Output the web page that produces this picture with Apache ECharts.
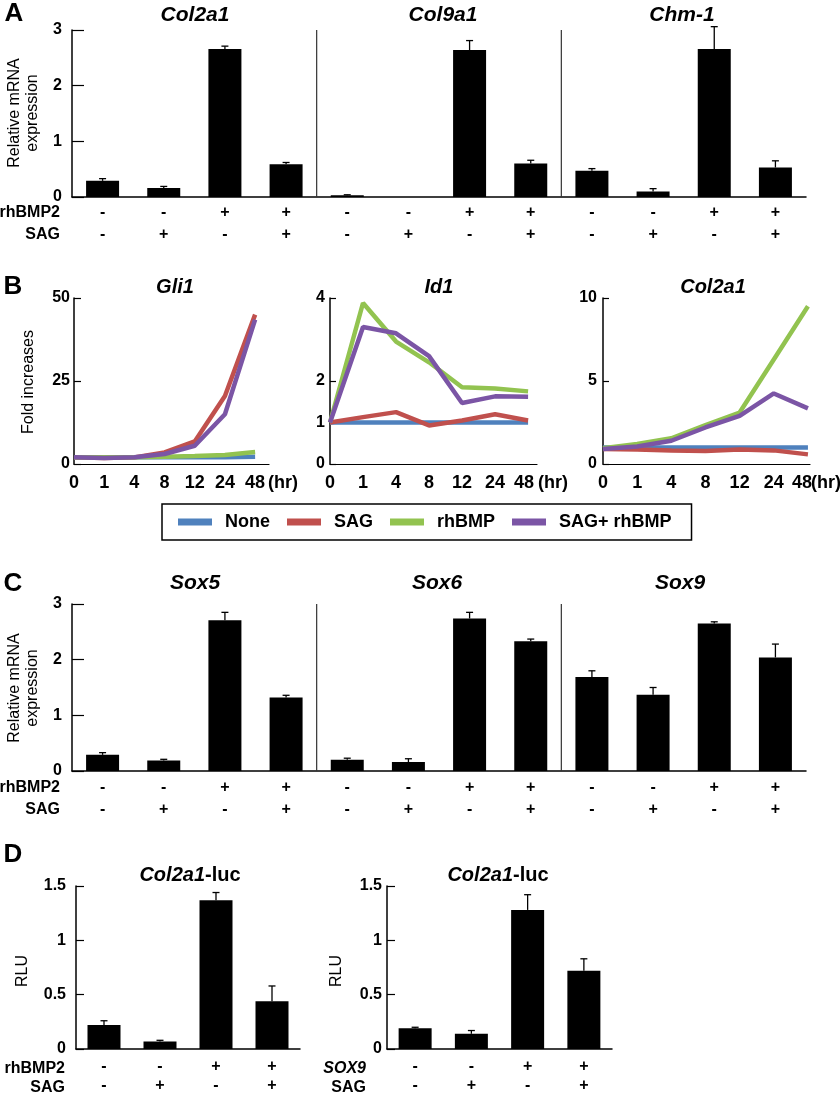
<!DOCTYPE html>
<html>
<head>
<meta charset="utf-8">
<script src="https://cdn.jsdelivr.net/npm/echarts@6/dist/echarts.min.js"></script>
<style>
html, body { margin: 0; padding: 0; background: #fff; }
#main { width: 840px; height: 1095px; }
</style>
</head>
<body>
<div id="main"></div>
<script>
var FONT = 'Arial, "Liberation Sans", sans-serif';

// treatment rows under the bar panels
var bmp2Row = ['-', '-', '+', '+'];
var sagRow = ['-', '+', '-', '+'];
// gene groups are split after every 4 bars
var groupBreaks = [4, 8];

// A: relative mRNA expression (Col2a1, Col9a1, Chm-1)
var genesA = ['Col2a1', 'Col9a1', 'Chm-1'];
var meanA = [0.29, 0.16, 2.66, 0.59, 0.03, 0, 2.64, 0.60, 0.47, 0.10, 2.66, 0.53];
var sdA = [0.04, 0.03, 0.05, 0.03, 0.01, 0, 0.17, 0.06, 0.04, 0.05, 0.40, 0.12];

// B: time course, fold increases
var hours = ['0', '1', '4', '8', '12', '24', '48'];
var lineNames = ['None', 'SAG', 'rhBMP', 'SAG+ rhBMP'];
var lineColors = ['#4f81bd', '#c0504d', '#92c350', '#7b55a5'];
var gli1None = [2, 2, 2, 2, 2, 2, 2.2];
var gli1Sag = [2, 1.8, 2, 3.5, 6.8, 20.5, 45];
var gli1Bmp = [2, 2, 2, 2.2, 2.4, 2.7, 3.6];
var gli1Both = [2, 1.8, 2, 3, 5.5, 15, 43.5];
var id1None = [1, 1, 1, 1, 1, 1, 1];
var id1Sag = [1, 1.13, 1.25, 0.93, 1.05, 1.2, 1.05];
var id1Bmp = [1, 3.88, 2.95, 2.45, 1.85, 1.82, 1.75];
var id1Both = [1, 3.3, 3.15, 2.6, 1.47, 1.63, 1.62];
var colNone = [1, 1, 1, 1, 1, 1, 1];
var colSag = [0.9, 0.88, 0.82, 0.78, 0.88, 0.82, 0.58];
var colBmp = [0.95, 1.2, 1.55, 2.35, 3.1, 6.3, 9.5];
var colBoth = [0.9, 1.05, 1.4, 2.2, 2.9, 4.25, 3.35];

// C: Sox5, Sox6, Sox9
var genesC = ['Sox5', 'Sox6', 'Sox9'];
var meanC = [0.29, 0.19, 2.71, 1.32, 0.20, 0.16, 2.74, 2.33, 1.69, 1.37, 2.65, 2.04];
var sdC = [0.04, 0.02, 0.14, 0.04, 0.03, 0.06, 0.11, 0.04, 0.11, 0.13, 0.03, 0.24];

// D: Col2a1-luc reporter (RLU)
var meanD1 = [0.22, 0.07, 1.37, 0.44];
var sdD1 = [0.04, 0.01, 0.07, 0.14];
var meanD2 = [0.19, 0.14, 1.28, 0.72];
var sdD2 = [0.01, 0.03, 0.14, 0.11];

function cats(genes) {
	var out = [];
	genes.forEach(function(g) {
		for (var k = 0; k < 4; k++) out.push(g + ' ' + (k + 1));
	});
	return out;
}
function pairs(arr) {
	return arr.map(function(v, i) { return [i, v]; });
}
function errData(mean, sd) {
	return mean.map(function(m, i) { return [i, m, m + sd[i]]; });
}
function errRender(params, api) {
	var p0 = api.coord([api.value(0), api.value(1)]);
	var p1 = api.coord([api.value(0), api.value(2)]);
	if (p0[1] - p1[1] < 0.5) return null;
	var st = { stroke: '#000', lineWidth: 1.3 };
	return {
		type: 'group',
		children: [
			{ type: 'line', shape: { x1: p0[0], y1: p0[1], x2: p1[0], y2: p1[1] }, style: st },
			{ type: 'line', shape: { x1: p1[0] - 3.5, y1: p1[1], x2: p1[0] + 3.5, y2: p1[1] }, style: st }
		]
	};
}
// vertical separator between gene groups
function sepRender(params, api) {
	var p0 = api.coord([api.value(0), api.value(1)]);
	var p1 = api.coord([api.value(0), api.value(2)]);
	return {
		type: 'line',
		shape: { x1: p0[0], y1: p0[1], x2: p1[0], y2: p1[1] },
		style: { stroke: '#333', lineWidth: 1.2 }
	};
}

var axisLineStyle = { color: '#000', width: 1.5 };

function catAxis(grid, data, lh, margin) {
	return {
		type: 'category',
		gridIndex: grid,
		data: data,
		boundaryGap: true,
		axisLine: { show: true, lineStyle: axisLineStyle },
		axisTick: { show: false },
		axisLabel: {
			interval: 0, color: '#000', fontFamily: FONT, fontWeight: 'bold', fontSize: 16,
			lineHeight: lh, margin: margin,
			formatter: function(v, i) { return bmp2Row[i % 4] + '\n' + sagRow[i % 4]; }
		},
		splitLine: { show: false }
	};
}
function hiddenAxis(grid, n) {
	return { type: 'value', gridIndex: grid, min: 0, max: n, show: false, splitLine: { show: false } };
}
function valAxis(grid, max, interval, tickLen, fontSize, margin) {
	return {
		type: 'value',
		gridIndex: grid,
		min: 0,
		max: max,
		interval: interval,
		axisLine: { show: true, lineStyle: axisLineStyle },
		axisTick: { show: true, inside: true, length: tickLen, lineStyle: { color: '#000', width: 1.2 } },
		axisLabel: { color: '#000', fontFamily: FONT, fontWeight: 'bold', fontSize: fontSize, margin: margin },
		splitLine: { show: false }
	};
}
function hourAxis(grid, max, lastShift) {
	return {
		type: 'value',
		gridIndex: grid,
		min: 0,
		max: max,
		interval: 1,
		axisLine: { show: true, lineStyle: { color: '#000', width: 1.2 } },
		axisTick: { show: false },
		axisLabel: {
			color: '#000', fontFamily: FONT, fontWeight: 'bold', fontSize: 18, lineHeight: 20, margin: 9,
			showMaxLabel: true,
			rich: { last: { fontFamily: FONT, fontWeight: 'bold', fontSize: 18, color: '#000', padding: [0, lastShift, 0, 0] } },
			formatter: function(v) {
				if (!Number.isInteger(v)) return '';
				return v === 6 ? '{last|' + hours[v] + '}' : hours[v];
			}
		},
		splitLine: { show: false }
	};
}

var xAxes = [
	catAxis(0, cats(genesA), 22, 5),
	hourAxis(1, 6.46, 0),
	hourAxis(2, 6.27, 8),
	hourAxis(3, 6.06, 12),
	catAxis(4, cats(genesC), 22, 6),
	catAxis(5, ['a', 'b', 'c', 'd'], 19, 8),
	catAxis(6, ['a', 'b', 'c', 'd'], 19, 8),
	hiddenAxis(0, 12),
	hiddenAxis(4, 12)
];
var id1Axis = valAxis(2, 4, 1, 6, 16, 5);
id1Axis.axisLabel.customValues = [0, 1, 2, 4];
id1Axis.axisTick.customValues = [0, 1, 2, 4];
id1Axis.axisLabel.formatter = function(v) { return v === 3 ? '' : v; };
var yAxes = [
	valAxis(0, 3, 1, 12, 16, 10),
	valAxis(1, 50, 25, 7, 16, 4),
	id1Axis,
	valAxis(3, 10, 5, 6, 16, 6),
	valAxis(4, 3, 1, 12, 16, 10),
	valAxis(5, 1.5, 0.5, 8, 16, 10),
	valAxis(6, 1.5, 0.5, 8, 16, 5)
];

var series = [];
function addBars(idx, mean, sd) {
	series.push({
		type: 'bar', xAxisIndex: idx, yAxisIndex: idx, data: mean, barWidth: 33,
		itemStyle: { color: '#000' }, silent: true
	});
	series.push({
		type: 'custom', xAxisIndex: idx, yAxisIndex: idx, data: errData(mean, sd),
		encode: { x: 0, y: [1, 2] }, renderItem: errRender, z: 5, silent: true
	});
}
function addSeparators(xIdx, yIdx, ymax) {
	series.push({
		type: 'custom', xAxisIndex: xIdx, yAxisIndex: yIdx,
		data: groupBreaks.map(function(b) { return [b, 0, ymax]; }),
		encode: { x: 0, y: [1, 2] }, renderItem: sepRender, z: 1, silent: true
	});
}
addBars(0, meanA, sdA);
addSeparators(7, 0, 3);
addBars(4, meanC, sdC);
addSeparators(8, 4, 3);
addBars(5, meanD1, sdD1);
addBars(6, meanD2, sdD2);

function addLines(idx, sets) {
	sets.forEach(function(arr, k) {
		series.push({
			type: 'line', name: lineNames[k], xAxisIndex: idx, yAxisIndex: idx,
			data: pairs(arr), symbol: 'none', showSymbol: false,
			lineStyle: { width: 4.5, color: lineColors[k] },
			itemStyle: { color: lineColors[k] }, z: 3 + k
		});
	});
}
addLines(1, [gli1None, gli1Sag, gli1Bmp, gli1Both]);
addLines(2, [id1None, id1Sag, id1Bmp, id1Both]);
addLines(3, [colNone, colSag, colBmp, colBoth]);

function txt(s, x, y, font, align, extra) {
	var el = {
		type: 'text', x: x, y: y,
		style: { text: s, font: font, fill: '#000', align: align || 'center', verticalAlign: 'middle' }
	};
	if (extra) for (var k in extra) el[k] = extra[k];
	return el;
}
var letterFont = 'bold 26px ' + FONT;
var titleFont = 'italic bold 21px ' + FONT;
var titleFontB = 'italic bold 20px ' + FONT;
var rowFont = 'bold 16px ' + FONT;
var nameFont = '16px ' + FONT;
var hrFont = 'bold 18px ' + FONT;
var rot = { rotation: Math.PI / 2 };

var graphics = [
	txt('A', 14, 14, letterFont), txt('B', 13, 287, letterFont),
	txt('C', 13, 584, letterFont), txt('D', 13, 855, letterFont),
	txt(genesA[0], 195, 15, titleFont), txt(genesA[1], 443, 15, titleFont), txt(genesA[2], 682, 15, titleFont),
	txt('Gli1', 175, 287, titleFontB), txt('Id1', 439, 287, titleFontB), txt('Col2a1', 713, 287, titleFontB),
	txt(genesC[0], 195, 583, titleFont), txt(genesC[1], 437, 583, titleFont), txt(genesC[2], 680, 583, titleFont),
	txt('rhBMP2', 60, 213, rowFont, 'right'), txt('SAG', 60, 235, rowFont, 'right'),
	txt('rhBMP2', 60, 788, rowFont, 'right'), txt('SAG', 60, 810, rowFont, 'right'),
	txt('rhBMP2', 65, 1069, rowFont, 'right'), txt('SAG', 65, 1088, rowFont, 'right'),
	txt('SOX9', 366, 1069, 'italic ' + rowFont, 'right'), txt('SAG', 366, 1088, rowFont, 'right'),
	txt('(hr)', 283, 483, hrFont), txt('(hr)', 553, 483, hrFont), txt('(hr)', 826, 483, hrFont),
	txt('Relative mRNA\nexpression', 24, 113, nameFont, 'center', rot),
	txt('Relative mRNA\nexpression', 24, 688, nameFont, 'center', rot),
	txt('Fold increases', 29, 382, nameFont, 'center', rot),
	txt('RLU', 23, 971, nameFont, 'center', rot),
	txt('RLU', 337, 971, nameFont, 'center', rot)
];
graphics[24].style.lineHeight = 18;
graphics[25].style.lineHeight = 18;
[[190, 875], [498, 875]].forEach(function(p) {
	graphics.push({
		type: 'text', x: p[0], y: p[1],
		style: {
			text: '{i|Col2a1}{n|-luc}', align: 'center', verticalAlign: 'middle', fill: '#000',
			rich: {
				i: { font: 'italic bold 20px ' + FONT, fill: '#000' },
				n: { font: 'bold 20px ' + FONT, fill: '#000' }
			}
		}
	});
});

var option = {
	animation: false,
	backgroundColor: '#fff',
	textStyle: { fontFamily: FONT },
	grid: [
		{ left: 72, top: 30, width: 734, height: 167 },
		{ left: 74, top: 298, width: 195, height: 166 },
		{ left: 330, top: 298, width: 207, height: 166 },
		{ left: 603, top: 298, width: 207, height: 166 },
		{ left: 72, top: 604, width: 734, height: 167 },
		{ left: 76, top: 886, width: 224, height: 166 },
		{ left: 387, top: 886, width: 225, height: 166 }
	],
	xAxis: xAxes,
	yAxis: yAxes,
	legend: {
		data: lineNames,
		left: 162, top: 504,
		icon: 'rect', itemWidth: 34, itemHeight: 7, itemGap: 17,
		padding: [9, 20, 9, 16],
		borderColor: '#000', borderWidth: 1.5,
		selectedMode: false,
		textStyle: { color: '#000', fontFamily: FONT, fontWeight: 'bold', fontSize: 18, padding: [0, 0, 0, 8] }
	},
	graphic: graphics,
	series: series
};

var myChart = echarts.init(document.getElementById('main'));
myChart.setOption(option);
</script>
</body>
</html>
